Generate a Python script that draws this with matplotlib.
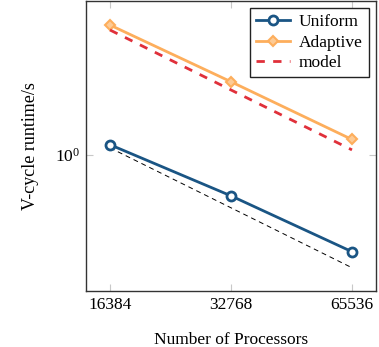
import matplotlib
matplotlib.use("Agg")
import matplotlib.pyplot as plt
from matplotlib.ticker import FixedLocator, NullLocator, LogFormatterMathtext

# data
procs = [16384, 32768, 65536]
uniform = [1.12, 0.62, 0.325]
adaptive = [4.47, 2.32, 1.19]
model = [4.22, 2.11, 1.055]
ideal = [1.08, 0.54, 0.27]

plt.rcParams['font.family'] = ['Liberation Serif', 'DejaVu Serif']
plt.rcParams['mathtext.fontset'] = 'stix'

fig = plt.figure(figsize=(3.79, 3.47), dpi=100)
ax = fig.add_axes([0.227, 0.161, 0.765, 0.836])

ax.plot(procs, ideal, color='black', ls=(0, (5, 4)), lw=0.7)
ax.plot(procs, uniform, color='#1a5584', lw=2.0, marker='o', ms=6.5,
        mfc='white', mec='#1a5584', mew=2.0, label='Uniform')
ax.plot(procs, adaptive, color='#fdae5c', lw=2.0, marker='D', ms=5,
        mfc='#fdcb95', mec='#fdae5c', mew=1.5, label='Adaptive')
ax.plot(procs, model, color='#e0303a', lw=2.0, ls=(0, (3, 3)), label='model')

ax.set_xscale('log', base=2)
ax.set_yscale('log')
ax.set_xlim(16384 / 2 ** (24 / 121), 65536 * 2 ** (24 / 121))
ax.set_ylim(0.206, 5.9)

ax.xaxis.set_major_locator(FixedLocator(procs))
ax.set_xticklabels([str(p) for p in procs])
ax.xaxis.set_minor_locator(NullLocator())
ax.yaxis.set_major_locator(FixedLocator([1.0]))
ax.yaxis.set_major_formatter(LogFormatterMathtext())
ax.yaxis.set_minor_locator(NullLocator())

ax.tick_params(direction='in', length=5, color='#c8c8c8', labelsize=12.5,
               top=True, right=True, pad=4)
for s in ax.spines.values():
    s.set_color('#333333')
    s.set_linewidth(1.0)

ax.set_xlabel('Number of Processors', fontsize=12.5, labelpad=14)
ax.set_ylabel('V-cycle runtime/s', fontsize=13, labelpad=12)

leg = ax.legend(loc='upper right', fontsize=12.5, frameon=True, fancybox=False,
                edgecolor='#222222', framealpha=1, handlelength=2.0,
                borderpad=0.35, labelspacing=0.25, handletextpad=0.5,
                borderaxespad=0.4)
leg.get_frame().set_linewidth(1.0)

fig.savefig('out.png', dpi=100)
